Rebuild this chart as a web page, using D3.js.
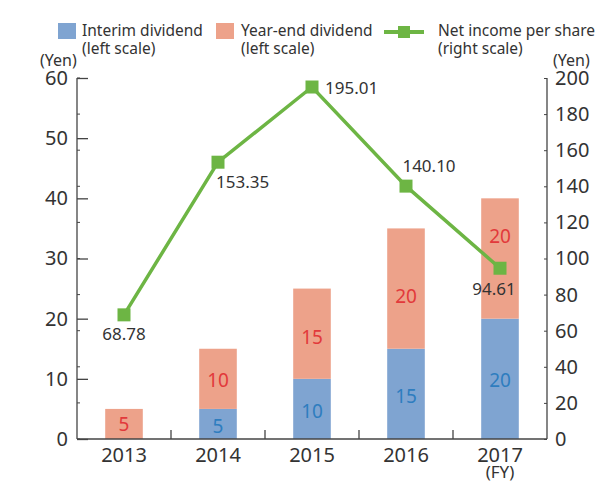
<!DOCTYPE html>
<html>
<head>
<meta charset="utf-8">
<script src="https://cdn.jsdelivr.net/npm/d3@7"></script>
<style>
  body { margin: 0; background: #fff; }
  svg { font-family: "Noto Sans", "DejaVu Sans", sans-serif; }
</style>
</head>
<body>
<div id="chart"></div>
<script>
const years = ["2013", "2014", "2015", "2016", "2017"];
const interim = [0, 5, 10, 15, 20];
const yearEnd = [5, 10, 15, 20, 20];
const netIncome = [68.78, 153.35, 195.01, 140.10, 94.61];
const leftTicks = [0, 10, 20, 30, 40, 50, 60];
const rightTicks = [0, 20, 40, 60, 80, 100, 120, 140, 160, 180, 200];

const width = 600;
const height = 483;
const plotLeft = 77, plotRight = 547, plotTop = 78, plotBottom = 439;

const blue = "#7fa4d1";
const salmon = "#eda28a";
const green = "#6db544";
const textColor = "#333";

const svg = d3.select("#chart").append("svg")
  .attr("width", width)
  .attr("height", height);

const x = d3.scaleBand().domain(years).range([plotLeft, plotRight]);
const yL = d3.scaleLinear().domain([0, 60]).range([plotBottom, plotTop]);
const yR = d3.scaleLinear().domain([0, 200]).range([plotBottom, plotTop]);
const barW = x.bandwidth() * 0.4;

// label nudges for the year-end values (2017 is pushed up to clear the line)
const yearEndNudge = [0, 2, 4, 8, -22];

// bars
const bars = svg.append("g");
years.forEach((yr, i) => {
  const cx = x(yr) + x.bandwidth() / 2;
  if (interim[i] > 0) {
    bars.append("rect")
      .attr("x", cx - barW / 2).attr("width", barW)
      .attr("y", yL(interim[i])).attr("height", yL(0) - yL(interim[i]))
      .attr("fill", blue);
    bars.append("text")
      .attr("x", cx).attr("y", (yL(0) + yL(interim[i])) / 2 + 2)
      .attr("dy", "0.35em").attr("text-anchor", "middle")
      .attr("font-size", 19).attr("fill", "#2e7dbf")
      .text(interim[i]);
  }
  const y0 = yL(interim[i]), y1 = yL(interim[i] + yearEnd[i]);
  bars.append("rect")
    .attr("x", cx - barW / 2).attr("width", barW)
    .attr("y", y1).attr("height", y0 - y1)
    .attr("fill", salmon);
  bars.append("text")
    .attr("x", cx).attr("y", (y0 + y1) / 2 + yearEndNudge[i])
    .attr("dy", "0.35em").attr("text-anchor", "middle")
    .attr("font-size", 19).attr("fill", "#e2393b")
    .text(yearEnd[i]);
});

// axes
const axisColor = "#444";
const leftAxis = svg.append("g").attr("transform", `translate(${plotLeft},0)`)
  .call(d3.axisLeft(yL).tickValues(leftTicks).tickSize(-11).tickPadding(9));
leftAxis.select(".domain").remove();
leftAxis.selectAll(".tick line").attr("stroke", axisColor).attr("stroke-width", 1.3);
leftAxis.selectAll("text").attr("font-size", 20).attr("fill", textColor)
  .attr("font-family", "Noto Sans, sans-serif");
// small ticks on the left axis at right-scale steps
svg.append("g").selectAll("line").data(rightTicks).join("line")
  .attr("x1", plotLeft).attr("x2", plotLeft + 3)
  .attr("y1", d => yR(d)).attr("y2", d => yR(d))
  .attr("stroke", axisColor).attr("stroke-width", 1);

svg.append("line").attr("x1", plotLeft).attr("x2", plotLeft)
  .attr("y1", plotTop).attr("y2", plotBottom).attr("stroke", axisColor).attr("stroke-width", 1.3);

const rightAxis = svg.append("g").attr("transform", `translate(${plotRight},0)`)
  .call(d3.axisRight(yR).tickValues(rightTicks).tickSize(-3).tickPadding(8));
rightAxis.select(".domain").remove();
rightAxis.selectAll(".tick line").attr("stroke", axisColor);
rightAxis.selectAll("text").attr("font-size", 20).attr("fill", textColor)
  .attr("font-family", "Noto Sans, sans-serif");
svg.append("line").attr("x1", plotRight).attr("x2", plotRight)
  .attr("y1", plotTop).attr("y2", plotBottom).attr("stroke", axisColor).attr("stroke-width", 1.3);

// x axis
const xAxis = svg.append("g").attr("transform", `translate(0,${plotBottom})`)
  .call(d3.axisBottom(x).tickSize(0).tickPadding(9));
xAxis.select(".domain").remove();
xAxis.selectAll("text").attr("font-size", 20).attr("fill", textColor)
  .attr("font-family", "Noto Sans, sans-serif");
svg.append("line").attr("x1", plotLeft).attr("x2", plotRight)
  .attr("y1", plotBottom).attr("y2", plotBottom).attr("stroke", axisColor).attr("stroke-width", 1.3);
svg.append("g").selectAll("line").data(years.slice(1)).join("line")
  .attr("x1", d => x(d)).attr("x2", d => x(d))
  .attr("y1", plotBottom).attr("y2", plotBottom - 9)
  .attr("stroke", axisColor).attr("stroke-width", 1.3);
svg.append("text")
  .attr("x", x("2017") + x.bandwidth() / 2).attr("y", 478)
  .attr("text-anchor", "middle").attr("font-size", 17).attr("fill", textColor)
  .text("(FY)");

// unit labels
svg.append("text").attr("x", 40).attr("y", 66).attr("font-size", 16)
  .attr("fill", textColor).text("(Yen)");
svg.append("text").attr("x", 553).attr("y", 66).attr("font-size", 16)
  .attr("fill", textColor).text("(Yen)");

// line
const cxOf = d => x(d) + x.bandwidth() / 2;
const pts = years.map((yr, i) => [cxOf(yr), yR(netIncome[i])]);
svg.append("path")
  .attr("d", d3.line()(pts))
  .attr("fill", "none").attr("stroke", green).attr("stroke-width", 3.5);
const ms = 13;
svg.append("g").selectAll("rect").data(pts).join("rect")
  .attr("x", d => d[0] - ms / 2).attr("y", d => d[1] - ms / 2)
  .attr("width", ms).attr("height", ms).attr("fill", green);

// line labels (offsets per point)
const labelOffsets = [[0, 25, "middle"], [-2, 26, "start"], [13, 7, "start"], [23, -14, "middle"], [-6, 27, "middle"]];
svg.append("g").selectAll("text").data(pts).join("text")
  .attr("x", (d, i) => d[0] + labelOffsets[i][0])
  .attr("y", (d, i) => d[1] + labelOffsets[i][1])
  .attr("text-anchor", (d, i) => labelOffsets[i][2])
  .attr("font-size", 17).attr("fill", textColor)
  .text((d, i) => netIncome[i].toFixed(2));

// legend
const legend = svg.append("g").attr("font-size", 15.5).attr("fill", textColor);
legend.append("rect").attr("x", 58).attr("y", 23).attr("width", 18).attr("height", 16).attr("fill", blue);
legend.append("text").attr("x", 82).attr("y", 36).text("Interim dividend");
legend.append("text").attr("x", 82).attr("y", 54).text("(left scale)");
legend.append("rect").attr("x", 216).attr("y", 23).attr("width", 18).attr("height", 16).attr("fill", salmon);
legend.append("text").attr("x", 241).attr("y", 36).text("Year-end dividend");
legend.append("text").attr("x", 241).attr("y", 54).text("(left scale)");
legend.append("line").attr("x1", 384).attr("x2", 424).attr("y1", 32).attr("y2", 32)
  .attr("stroke", green).attr("stroke-width", 4);
legend.append("rect").attr("x", 398).attr("y", 26).attr("width", 12).attr("height", 12).attr("fill", green);
legend.append("text").attr("x", 438).attr("y", 36).text("Net income per share");
legend.append("text").attr("x", 438).attr("y", 54).text("(right scale)");
</script>
</body>
</html>
